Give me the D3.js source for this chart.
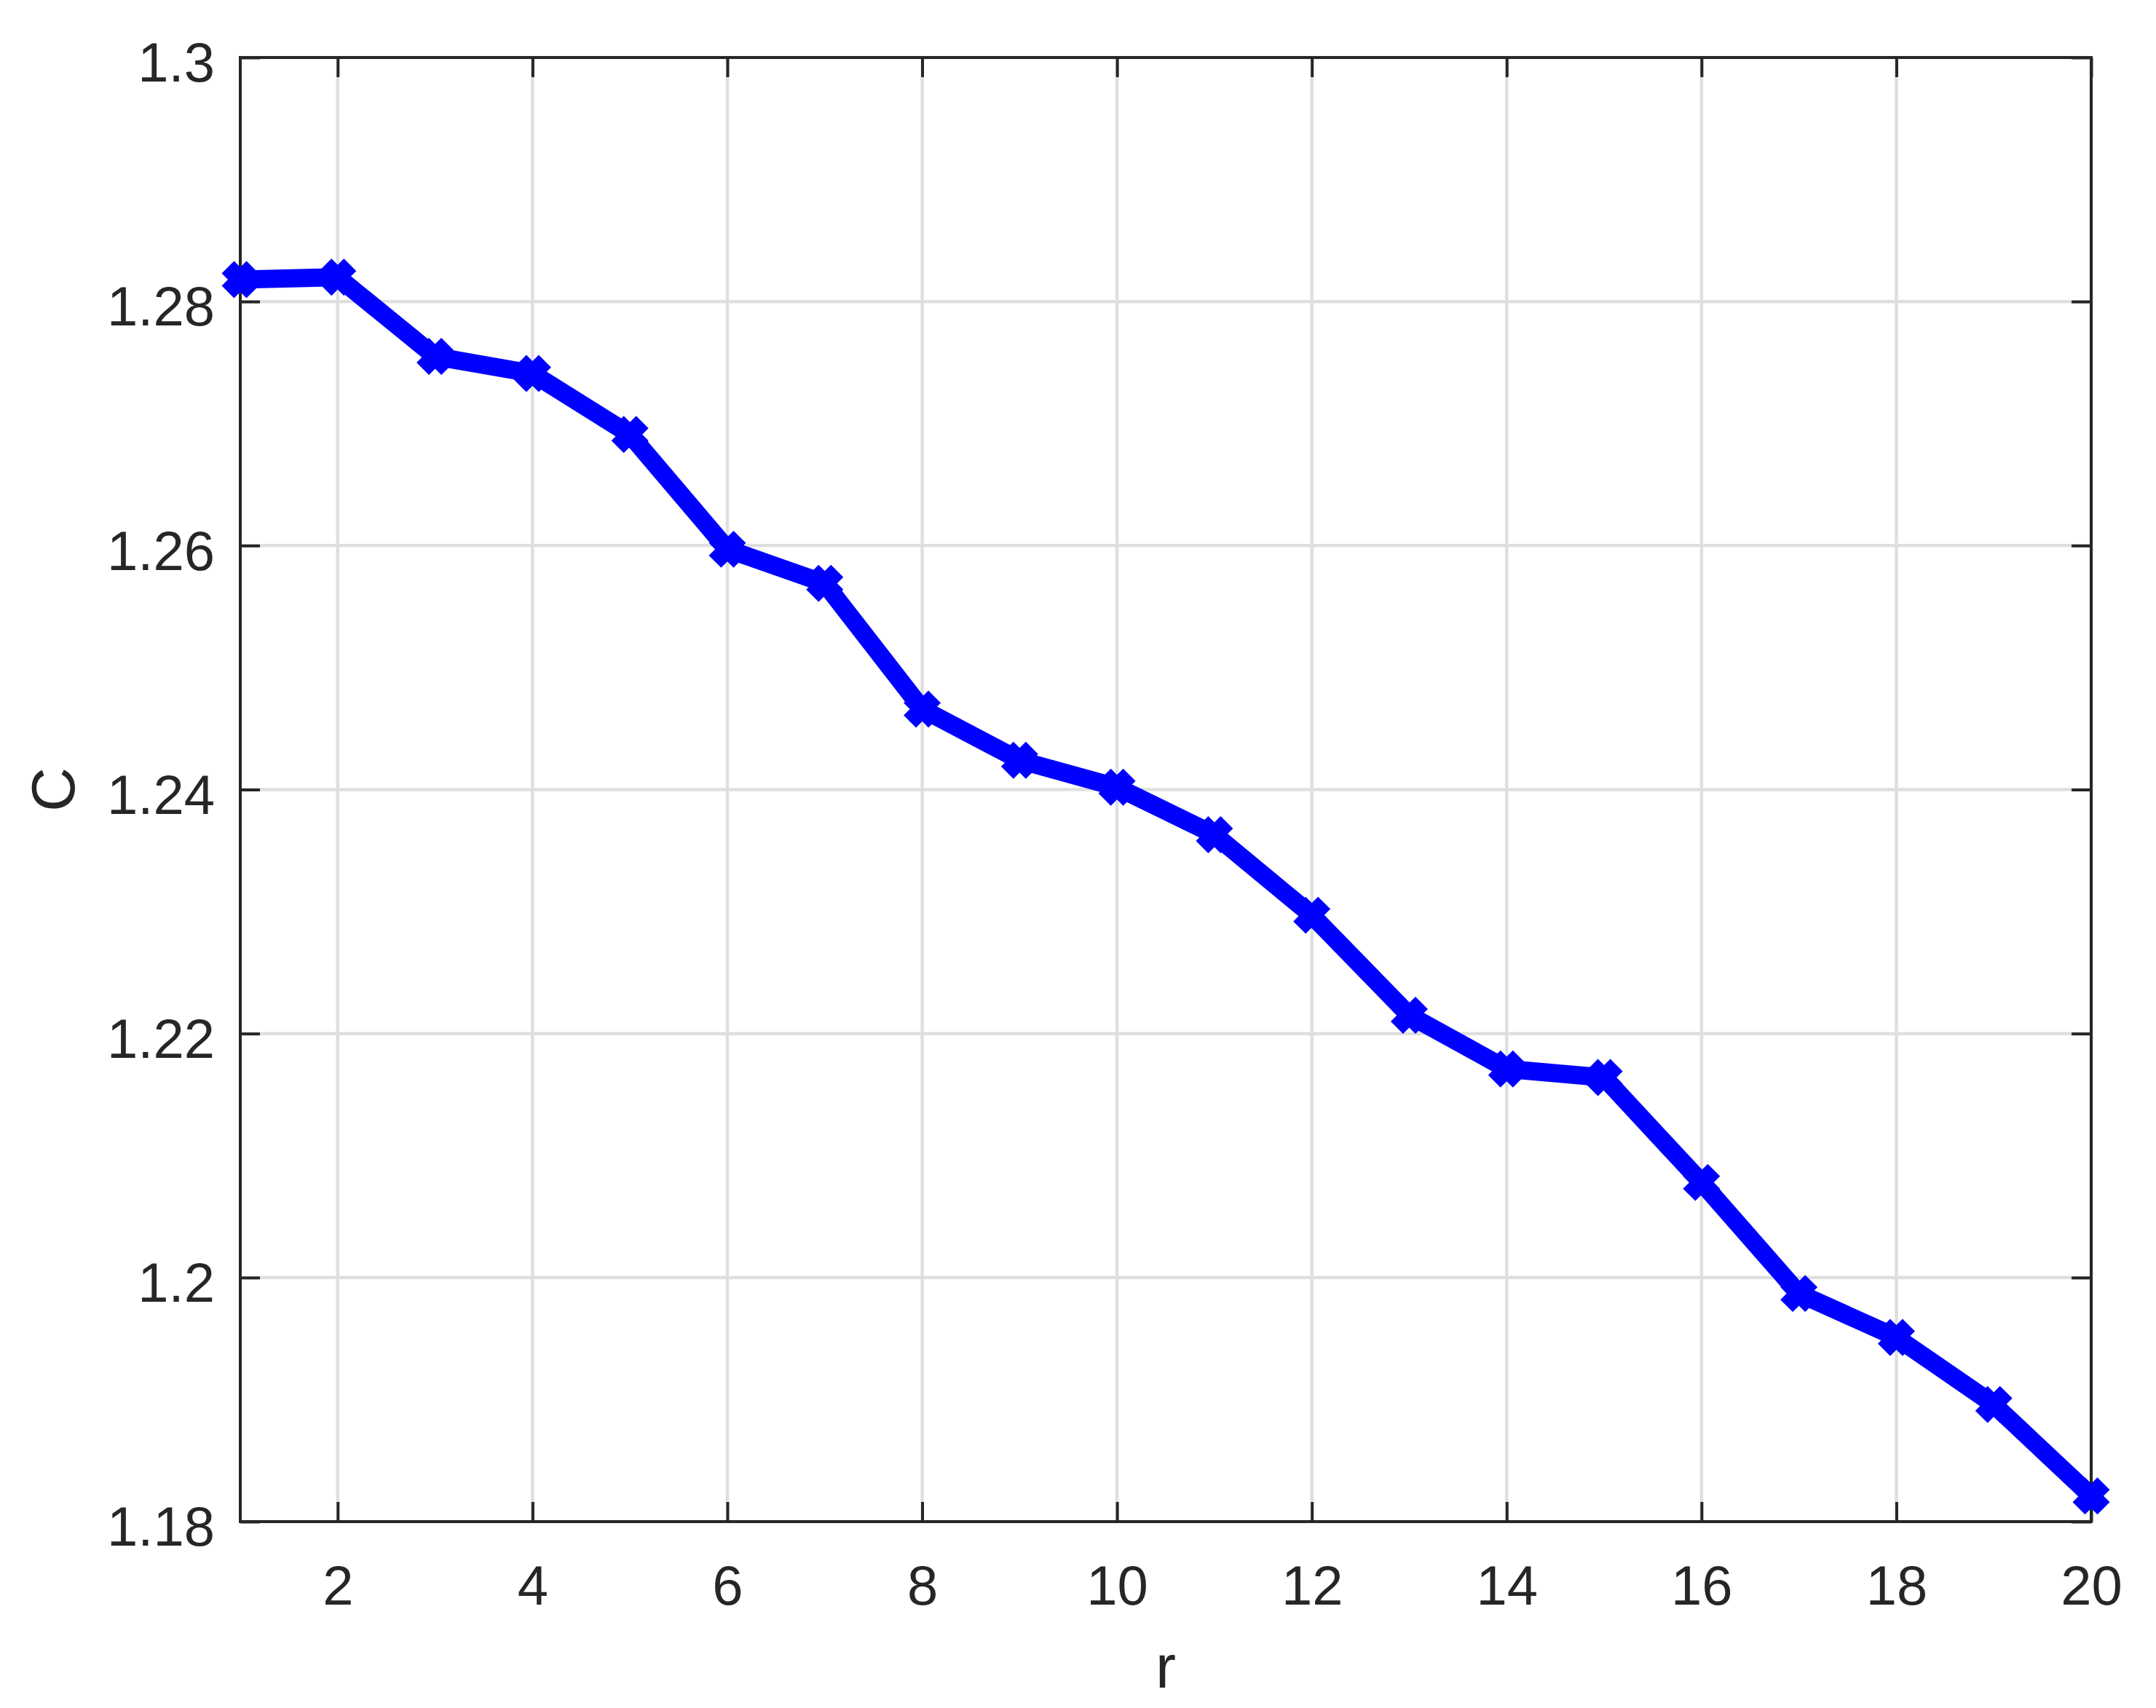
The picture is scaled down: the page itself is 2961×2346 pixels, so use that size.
<!DOCTYPE html>
<html>
<head>
<meta charset="utf-8">
<script src="https://cdn.jsdelivr.net/npm/d3@7"></script>
<style>
  body { margin: 0; background: #fff; }
  text { font-family: "Liberation Sans", Arial, Helvetica, sans-serif; fill: #262626; }
</style>
</head>
<body>
<svg width="2961" height="2346"></svg>
<script>
// data
const rValues = [1, 2, 3, 4, 5, 6, 7, 8, 9, 10, 11, 12, 13, 14, 15, 16, 17, 18, 19, 20]
const cValues = [1.2818, 1.2820, 1.2755, 1.2741, 1.2691, 1.2597, 1.2569, 1.2466, 1.2424, 1.2402,
                 1.2363, 1.2297, 1.2215, 1.2171, 1.2164, 1.2078, 1.1987, 1.1951, 1.1896, 1.1821]
const xTicks = [2, 4, 6, 8, 10, 12, 14, 16, 18, 20]
const yTicks = [1.18, 1.2, 1.22, 1.24, 1.26, 1.28, 1.3]

const svg = d3.select('svg')
const width = +svg.attr('width')
const height = +svg.attr('height')

const margin = { left: 330, right: width - 2872, top: 79, bottom: height - 2090 }
const plotW = width - margin.left - margin.right
const plotH = height - margin.top - margin.bottom

const axisColor = '#262626'
const gridColor = '#dfdfdf'
const tickLen = 27

const x = d3.scaleLinear().domain([1, 20]).range([0, plotW])
const y = d3.scaleLinear().domain([1.18, 1.3]).range([plotH, 0])

svg.append('rect').attr('width', width).attr('height', height).attr('fill', '#fff')

const g = svg.append('g').attr('transform', `translate(${margin.left},${margin.top})`)

// grid
g.append('g').selectAll('line')
  .data(xTicks)
  .enter().append('line')
    .attr('x1', d => x(d)).attr('x2', d => x(d))
    .attr('y1', 0).attr('y2', plotH)
    .attr('stroke', gridColor).attr('stroke-width', 4.5)

g.append('g').selectAll('line')
  .data(yTicks)
  .enter().append('line')
    .attr('x1', 0).attr('x2', plotW)
    .attr('y1', d => y(d)).attr('y2', d => y(d))
    .attr('stroke', gridColor).attr('stroke-width', 4.5)

// axes, ticks pointing inward on all four sides
const fmt = d3.format('.3~g')

const styleAxis = (sel) => {
  sel.select('.domain').remove()
  sel.selectAll('.tick line').attr('stroke', axisColor).attr('stroke-width', 4)
  sel.selectAll('.tick text')
    .attr('fill', axisColor)
    .style('font-size', '76px')
    .style('font-family', '"Liberation Sans", Arial, Helvetica, sans-serif')
}

g.append('g')
  .attr('transform', `translate(0,${plotH})`)
  .call(d3.axisBottom(x).tickValues(xTicks).tickSizeInner(-tickLen).tickSizeOuter(0).tickPadding(60))
  .call(styleAxis)

g.append('g')
  .call(d3.axisLeft(y).tickValues(yTicks).tickFormat(fmt).tickSizeInner(-tickLen).tickSizeOuter(0).tickPadding(35))
  .call(styleAxis)
  .call(a => a.selectAll('.tick text').attr('dy', '0.43em'))

g.append('g')
  .call(d3.axisTop(x).tickValues(xTicks).tickFormat('').tickSizeInner(-tickLen).tickSizeOuter(0))
  .call(styleAxis)

g.append('g')
  .attr('transform', `translate(${plotW},0)`)
  .call(d3.axisRight(y).tickValues(yTicks).tickFormat('').tickSizeInner(-tickLen).tickSizeOuter(0))
  .call(styleAxis)

g.append('rect')
  .attr('width', plotW).attr('height', plotH)
  .attr('fill', 'none').attr('stroke', axisColor).attr('stroke-width', 4)

// series
const points = rValues.map((r, i) => ({ r, c: cValues[i] }))

const line = d3.line()
  .x(d => x(d.r))
  .y(d => y(d.c))

g.append('path')
  .datum(points)
  .attr('d', line)
  .attr('fill', 'none')
  .attr('stroke', '#0000ff')
  .attr('stroke-width', 25)
  .attr('stroke-linejoin', 'round')

const a = 17
g.append('g').selectAll('path')
  .data(points)
  .enter().append('path')
    .attr('transform', d => `translate(${x(d.r)},${y(d.c)})`)
    .attr('d', `M${-a},${-a}L${a},${a}M${-a},${a}L${a},${-a}`)
    .attr('stroke', '#0000ff')
    .attr('stroke-width', 24)
    .attr('fill', 'none')

// axis labels
svg.append('text')
  .attr('x', margin.left + plotW / 2)
  .attr('y', 2318)
  .attr('text-anchor', 'middle')
  .style('font-size', '84px')
  .text('r')

svg.append('text')
  .attr('transform', `translate(102,${margin.top + plotH / 2}) rotate(-90)`)
  .attr('text-anchor', 'middle')
  .style('font-size', '84px')
  .text('C')
</script>
</body>
</html>
